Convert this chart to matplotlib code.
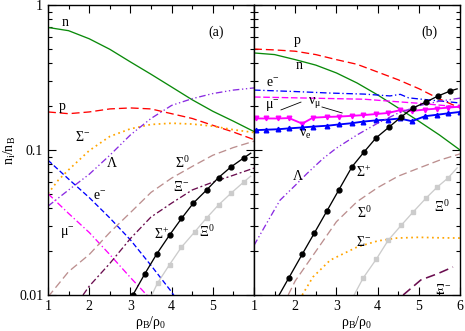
import numpy as np
import matplotlib
matplotlib.use("Agg")
import matplotlib.pyplot as plt
from matplotlib.ticker import MultipleLocator, LogLocator, NullFormatter

plt.rcParams['font.family'] = ['Liberation Serif', 'DejaVu Serif']
plt.rcParams['mathtext.fontset'] = 'custom'
plt.rcParams['mathtext.rm'] = 'Liberation Serif'
plt.rcParams['mathtext.it'] = 'Liberation Serif:italic'

# ---------------- panel (a) data ----------------
rho_grid = [1.0, 1.5, 2.0, 2.5, 3.0, 3.5, 4.0, 4.5, 5.0, 5.5, 6.0]
a_n = [0.70, 0.665, 0.585, 0.495, 0.405, 0.333, 0.272, 0.222, 0.185, 0.158, 0.134]
a_p = [0.183, 0.178, 0.183, 0.192, 0.195, 0.192, 0.178, 0.165, 0.148, 0.133, 0.118]
a_Lam = [0.041, 0.053, 0.068, 0.092, 0.127, 0.165, 0.203, 0.226, 0.245, 0.259, 0.268]
a_Sig0 = [0.0097, 0.0145, 0.019, 0.027, 0.037, 0.051, 0.064, 0.077, 0.092, 0.104, 0.115]

a_rho_Sm = [1.0, 1.25, 1.5, 1.75, 2.0, 2.5, 3.0, 3.5, 4.0, 4.5, 5.0, 5.5, 6.0]
a_Sm = [0.050, 0.062, 0.073, 0.085, 0.099, 0.124, 0.140, 0.150, 0.153, 0.151, 0.146, 0.138, 0.132]

a_rho_e = [1.0, 1.5, 2.0, 2.5, 3.0, 3.5, 4.0, 4.1]
a_e = [0.085, 0.063, 0.047, 0.034, 0.024, 0.016, 0.0105, 0.0095]

a_rho_mu = [1.0, 1.5, 2.0, 2.5, 3.0, 3.5]
a_mu = [0.050, 0.0365, 0.027, 0.019, 0.0132, 0.0093]

a_rho_Xm = [1.85, 2.0, 2.5, 3.0, 3.5, 4.0, 4.5, 5.0, 5.5, 6.0]
a_Xm = [0.0100, 0.0115, 0.0165, 0.0245, 0.0345, 0.043, 0.053, 0.060, 0.067, 0.075]

a_rho_Sp = [3.06, 3.35, 3.64, 3.95, 4.24, 4.53, 4.85, 5.14, 5.44, 5.75, 5.92]
a_Sp = [0.0100, 0.0140, 0.0192, 0.0259, 0.0337, 0.0431, 0.0530, 0.0646, 0.0764, 0.0881, 0.095]

a_rho_X0 = [3.52, 3.66, 3.95, 4.24, 4.56, 4.85, 5.14, 5.45, 5.75, 5.92]
a_X0 = [0.0100, 0.0121, 0.0162, 0.0214, 0.0272, 0.0340, 0.0418, 0.0506, 0.0601, 0.066]

# ---------------- panel (b) data ----------------
b_p = [0.497, 0.49, 0.48, 0.455, 0.42, 0.39, 0.345, 0.305, 0.265, 0.225, 0.195]
b_n = [0.467, 0.455, 0.42, 0.385, 0.34, 0.29, 0.24, 0.195, 0.158, 0.127, 0.100]

b_rho_e = [1.0, 2.0, 2.84, 3.67, 4.3, 4.55, 4.75, 5.0, 5.5, 6.0]
b_e = [0.259, 0.253, 0.247, 0.243, 0.236, 0.242, 0.229, 0.225, 0.218, 0.211]

b_rho_mu = [1.0, 2.0, 3.0, 3.67, 4.5, 5.0, 5.5, 6.0]
b_mu = [0.232, 0.229, 0.226, 0.224, 0.215, 0.210, 0.204, 0.198]

b_rho_nu = [1.05, 1.29, 1.58, 1.85, 2.17, 2.43, 2.77, 3.06, 3.37, 3.65, 3.96,
            4.25, 4.54, 4.83, 5.15, 5.44, 5.71, 6.0]
b_numu = [0.165, 0.165, 0.165, 0.166, 0.152, 0.167, 0.169, 0.170, 0.172, 0.174,
          0.177, 0.180, 0.188, 0.186, 0.190, 0.193, 0.196, 0.199]
b_nue = [0.137, 0.138, 0.139, 0.141, 0.143, 0.145, 0.147, 0.150, 0.153, 0.157,
         0.160, 0.162, 0.165, 0.158, 0.171, 0.175, 0.179, 0.183]

b_rho_Lam = [1.0, 1.3, 1.63, 2.0, 2.29, 2.67, 3.0, 3.5, 4.0, 4.47, 5.0, 5.5, 6.0]
b_Lam = [0.022, 0.031, 0.045, 0.057, 0.069, 0.087, 0.103, 0.127, 0.153, 0.178, 0.202, 0.217, 0.228]

b_rho_Sig0 = [1.83, 2.0, 2.5, 3.0, 3.5, 4.0, 4.5, 5.0, 5.5, 6.0]
b_Sig0 = [0.0100, 0.0125, 0.020, 0.032, 0.044, 0.055, 0.066, 0.075, 0.085, 0.094]

b_rho_Sm = [2.17, 2.43, 2.85, 3.5, 4.0, 4.47, 5.0, 5.5, 6.0]
b_Sm = [0.0100, 0.0133, 0.0174, 0.0214, 0.0236, 0.0247, 0.0250, 0.0248, 0.0247]

b_rho_X0 = [3.43, 3.65, 3.97, 4.26, 4.58, 4.86, 5.18, 5.45, 5.71, 5.93]
b_X0 = [0.0100, 0.0131, 0.0177, 0.0239, 0.0304, 0.0373, 0.0467, 0.0556, 0.0641, 0.0752]

b_rho_Xm = [4.62, 5.05, 5.45, 5.83]
b_Xm = [0.0100, 0.0127, 0.0140, 0.0156]

b_rho_Sp = [1.61, 1.85, 2.17, 2.46, 2.77, 3.06, 3.38, 3.67, 3.96, 4.28, 4.57,
            4.86, 5.17, 5.47, 5.76, 5.93]
b_Sp = [0.0100, 0.0132, 0.0191, 0.0266, 0.0380, 0.0531, 0.0767, 0.0968, 0.121,
        0.144, 0.169, 0.195, 0.214, 0.236, 0.255, 0.264]

# ---------------- styles ----------------
C_n = '#0a8a0a'
C_p = '#ff0000'
C_Sm = '#ffa500'
C_Lam = '#8a2be2'
C_e = '#0000ff'
C_mu = '#ff00ff'
C_S0 = '#bc8f8f'
C_Xm = '#6a0d4f'
C_X0 = '#cccccc'
LW = 0.95

fig = plt.figure(figsize=(4.65, 3.31), dpi=100)
axa = fig.add_axes([48/465, 1-295/331, 206/465, 290/331])
axb = fig.add_axes([254/465, 1-295/331, 206/465, 290/331])

# panel a
axa.plot(rho_grid, a_n, color=C_n, lw=LW)
axa.plot(rho_grid, a_p, color=C_p, lw=LW, dashes=(6, 3))
axa.plot(a_rho_Sm, a_Sm, color=C_Sm, lw=LW+0.3, dashes=(1, 2))
axa.plot(rho_grid, a_Lam, color=C_Lam, lw=LW, dashes=(5, 2, 1, 2, 1, 2))
axa.plot(a_rho_e, a_e, color=C_e, lw=LW, dashes=(4, 2))
axa.plot(a_rho_mu, a_mu, color=C_mu, lw=LW, dashes=(5, 2, 1, 2))
axa.plot(rho_grid, a_Sig0, color=C_S0, lw=LW, dashes=(6, 3))
axa.plot(a_rho_Xm, a_Xm, color=C_Xm, lw=LW, dashes=(5, 2, 1.5, 2))
axa.plot(a_rho_X0, a_X0, color=C_X0, lw=LW, marker='s', ms=3,
         mfc=C_X0, mec=C_X0, markevery=list(range(1, len(a_rho_X0)-1)))
axa.plot(a_rho_Sp, a_Sp, color='black', lw=LW, marker='o', ms=3.5,
         markevery=list(range(0, len(a_rho_Sp)-1)))

# panel b
axb.plot(rho_grid, b_p, color=C_p, lw=LW, dashes=(6, 3))
axb.plot(rho_grid, b_n, color=C_n, lw=LW)
axb.plot(b_rho_e, b_e, color=C_e, lw=LW, dashes=(5, 2, 1, 2))
axb.plot(b_rho_mu, b_mu, color=C_mu, lw=LW, dashes=(5, 2))
axb.plot(b_rho_nu, b_numu, color=C_mu, lw=LW+0.4, marker='v', ms=3.3)
axb.plot(b_rho_nu, b_nue, color=C_e, lw=LW+0.4, marker='^', ms=3.3)
axb.plot(b_rho_Lam, b_Lam, color=C_Lam, lw=LW, dashes=(5, 2, 1, 2, 1, 2))
axb.plot(b_rho_Sig0, b_Sig0, color=C_S0, lw=LW, dashes=(6, 3))
axb.plot(b_rho_Sm, b_Sm, color=C_Sm, lw=LW+0.3, dashes=(1, 2))
axb.plot(b_rho_X0, b_X0, color=C_X0, lw=LW, marker='s', ms=3,
         mfc=C_X0, mec=C_X0, markevery=list(range(1, len(b_rho_X0)-1)))
axb.plot(b_rho_Xm, b_Xm, color=C_Xm, lw=LW+0.2, dashes=(6, 3))
axb.plot(b_rho_Sp, b_Sp, color='black', lw=LW, marker='o', ms=3.5,
         markevery=list(range(1, len(b_rho_Sp)-1)))

# leader lines for labels
axb.plot([1.655, 2.14], [0.189, 0.214], color='black', lw=0.6)
axb.plot([2.65, 3.14], [0.198, 0.180], color='black', lw=0.6)

FS = 10
for ax in (axa, axb):
    ax.set_yscale('log')
    ax.set_xlim(1, 6)
    ax.set_ylim(0.01, 1)
    ax.xaxis.set_major_locator(MultipleLocator(1))
    ax.xaxis.set_minor_locator(MultipleLocator(0.5))
    ax.yaxis.set_major_locator(LogLocator(base=10, numticks=10))
    ax.yaxis.set_minor_locator(LogLocator(base=10, subs=np.arange(2, 10), numticks=10))
    ax.yaxis.set_minor_formatter(NullFormatter())
    ax.tick_params(which='both', direction='in', top=True, right=True, labelsize=FS)
    ax.tick_params(which='major', length=6, width=0.8)
    ax.tick_params(which='minor', length=3, width=0.8)
    for s in ax.spines.values():
        s.set_linewidth(1.0)
    ax.set_xlabel(r'ρ$_\mathrm{B}$/ρ$_\mathrm{0}$', fontsize=FS, labelpad=1)

axa.set_xticks([1, 2, 3, 4, 5, 6])
axa.set_xticklabels(['1', '2', '3', '4', '5', ''])
axa.set_yticks([0.01, 0.1, 1])
axa.set_yticklabels(['0.01', '0.1', '1'])
axa.set_ylabel(r'n$_\mathrm{i}$/n$_\mathrm{B}$', fontsize=FS, labelpad=1)
axb.set_yticks([0.01, 0.1, 1])
axb.set_yticklabels([])
axb.tick_params(axis='y', which='both', labelleft=False)

def lab(ax, x, y, s):
    ax.text(x, y, s, fontsize=FS, ha='center', va='center')

lab(axa, 1.41, 0.763, 'n')
lab(axa, 5.09, 0.651, '(a)')
lab(axa, 1.34, 0.201, 'p')
lab(axa, 1.85, 0.123, r'Σ$^{-}$')
lab(axa, 2.55, 0.0813, 'Λ')
lab(axa, 4.27, 0.0813, r'Σ$^{0}$')
lab(axa, 2.26, 0.0476, r'e$^{-}$')
lab(axa, 1.48, 0.0268, r'μ$^{-}$')
lab(axa, 4.24, 0.0552, r'Ξ$^{-}$')
lab(axa, 3.76, 0.026, r'Σ$^{+}$')
lab(axa, 4.85, 0.0272, r'Ξ$^{0}$')

lab(axb, 2.04, 0.573, 'p')
lab(axb, 2.09, 0.38, 'n')
lab(axb, 5.25, 0.651, '(b)')
lab(axb, 1.46, 0.29, r'e$^{-}$')
lab(axb, 1.44, 0.20, r'μ$^{-}$')
lab(axb, 2.48, 0.211, r'ν$_\mathrm{μ}$')
lab(axb, 2.24, 0.127, r'ν$_\mathrm{e}$')
lab(axb, 3.65, 0.0706, r'Σ$^{+}$')
lab(axb, 2.07, 0.0654, 'Λ')
lab(axb, 3.69, 0.0368, r'Σ$^{0}$')
lab(axb, 3.65, 0.0233, r'Σ$^{-}$')
lab(axb, 5.56, 0.0405, r'Ξ$^{0}$')
lab(axb, 5.59, 0.0108, r'Ξ$^{-}$')

fig.savefig('out.png', dpi=100)
